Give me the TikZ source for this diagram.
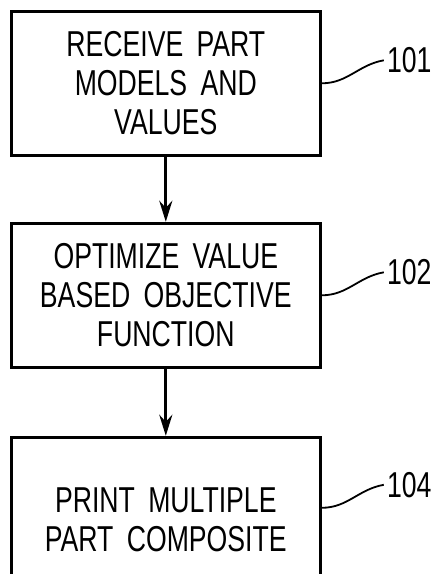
\documentclass[tikz,border=0pt]{standalone}
\usepackage{fontspec}
\setmainfont[FakeStretch=0.74,WordSpace=1.8]{Liberation Sans}
\usetikzlibrary{arrows.meta,positioning}

\begin{document}
\begin{tikzpicture}[
  x=1pt, y=1pt,
  font=\fontsize{36}{39}\selectfont,
  stepbox/.style={rectangle, draw=black, line width=3pt, align=center,
    minimum width=309pt, minimum height=144pt, inner sep=0pt},
  tag/.style={inner sep=3pt},
  flow/.style={-{Stealth[length=21pt, width=13pt, inset=7pt]}, line width=3pt},
  lead/.style={line width=1.8pt},
  node distance=65pt and 62pt,
]
\useasboundingbox (0,0) rectangle (441,574);
\node[stepbox] (b1) at (165.8,490.7) {RECEIVE PART\\MODELS AND\\VALUES};
\node[stepbox, below=of b1] (b2) {OPTIMIZE VALUE\\BASED OBJECTIVE\\FUNCTION};
\node[stepbox, below=67pt of b2, minimum height=141pt] (b3)
  {\rule{0pt}{49pt}PRINT MULTIPLE\\PART COMPOSITE};
\node[tag, right=of b1.east, yshift=23pt] (n1) {101};
\node[tag, right=of b2.east, yshift=23pt] (n2) {102};
\node[tag, right=of b3.east, yshift=23pt] (n4) {104};
\draw[flow] (b1) -- (b2);
\draw[flow] (b2) -- (b3);
\draw[lead] (b1.east) to[out=0, in=190] (n1.west);
\draw[lead] (b2.east) to[out=0, in=190] (n2.west);
\draw[lead] (b3.east) to[out=0, in=190] (n4.west);
\end{tikzpicture}
\end{document}
